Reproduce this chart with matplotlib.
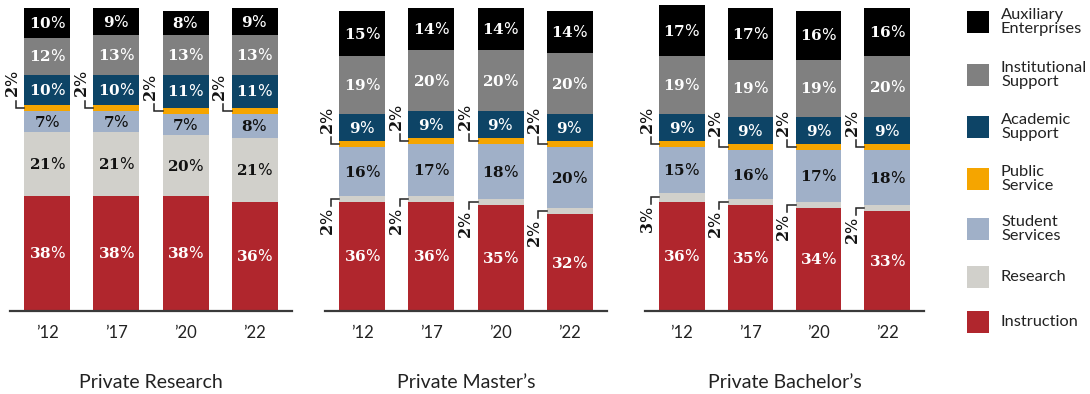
import matplotlib
matplotlib.use("Agg")
import matplotlib.pyplot as plt
from matplotlib.patches import Rectangle

plt.rcParams["font.family"] = ["Lato", "DejaVu Sans"]
plt.rcParams["mathtext.fontset"] = "custom"
plt.rcParams["mathtext.bf"] = "DejaVu Serif:bold"
plt.rcParams["mathtext.rm"] = "DejaVu Sans"

# ---- data -------------------------------------------------------------
years = ["\u201912", "\u201917", "\u201920", "\u201922"]
panels = ["Private Research", "Private Master\u2019s", "Private Bachelor\u2019s"]

categories = ["Instruction", "Research", "Student Services", "Public Service",
              "Academic Support", "Institutional Support", "Auxiliary Enterprises"]
legend_labels = ["Instruction", "Research", "Student\nServices", "Public\nService",
                 "Academic\nSupport", "Institutional\nSupport", "Auxiliary\nEnterprises"]

# shares (%) per panel, per year
instruction = [[38, 38, 38, 36], [36, 36, 35, 32], [36, 35, 34, 33]]
research = [[21, 21, 20, 21], [2, 2, 2, 2], [3, 2, 2, 2]]
student_services = [[7, 7, 7, 8], [16, 17, 18, 20], [15, 16, 17, 18]]
public_service = [[2, 2, 2, 2], [2, 2, 2, 2], [2, 2, 2, 2]]
academic_support = [[10, 10, 11, 11], [9, 9, 9, 9], [9, 9, 9, 9]]
institutional_support = [[12, 13, 13, 13], [19, 20, 20, 20], [19, 19, 19, 20]]
auxiliary_enterprises = [[10, 9, 8, 9], [15, 14, 14, 14], [17, 17, 16, 16]]

series = [instruction, research, student_services, public_service,
          academic_support, institutional_support, auxiliary_enterprises]

# ---- style ------------------------------------------------------------
colors = ["#b0262d", "#d1d0cb", "#a0b0c8", "#f5a500", "#0d4466", "#808080", "#000000"]
text_colors = ["white", "#111111", "#111111", "#111111", "white", "white", "white"]
callout_dir = [None, -1, None, +1, None, None, None]   # small segments: +1 above, -1 below
SMALL = 5

W, H = 1090, 394
fig = plt.figure(figsize=(W / 100, H / 100), dpi=100)

axes_left = [10, 325, 645]
axes_width = [282, 282, 279]
base_px = 311          # baseline from top
full_px = 303          # height of 100 %
xlim = (-0.54, 3.54)
bar_w = 0.667


def pct(v):
    return r"$\mathbf{%d}\mathrm{\%%}$" % v


for p, name in enumerate(panels):
    ax = fig.add_axes([axes_left[p] / W, (H - base_px) / H,
                       axes_width[p] / W, full_px / H])
    ax.set_xlim(*xlim)
    ax.set_ylim(0, 100)
    px_x = axes_width[p] / (xlim[1] - xlim[0])
    px_y = full_px / 100.0

    xs = list(range(len(years)))
    bottoms = [0] * len(years)
    for c, data in enumerate(series):
        vals = data[p]
        ax.bar(xs, vals, width=bar_w, bottom=bottoms, color=colors[c],
               linewidth=0, clip_on=False, zorder=2)
        for i, v in enumerate(vals):
            yc = bottoms[i] + v / 2
            if v >= SMALL:
                ax.text(xs[i], yc, pct(v), ha="center", va="center",
                        color=text_colors[c], fontsize=11, zorder=3)
            else:
                d = callout_dir[c]
                xl = xs[i] - bar_w / 2
                xk = xl - 8.5 / px_x
                yk = yc + d * 7 / px_y
                ax.plot([xl, xk, xk], [yc, yc, yk], color="#222222",
                        lw=1.1, solid_joinstyle="miter", clip_on=False, zorder=3)
                ax.text(xl - 11.5 / px_x, yc + d * 9.5 / px_y, pct(v),
                        rotation=90, ha="center",
                        va="bottom" if d > 0 else "top",
                        color="#111111", fontsize=11.5, zorder=3)
            bottoms[i] += v

    for s in ["top", "right", "left"]:
        ax.spines[s].set_visible(False)
    ax.spines["bottom"].set_color("#3a3a3a")
    ax.spines["bottom"].set_linewidth(1.6)
    ax.set_yticks([])
    ax.set_xticks(xs)
    ax.set_xticklabels(years, fontsize=12, color="#222222")
    ax.tick_params(axis="x", length=0, pad=10)

    cx = (axes_left[p] + axes_width[p] / 2) / W
    fig.text(cx, 1 - 382 / H, name, ha="center", va="center",
             fontsize=14, color="#222222")

# ---- legend -----------------------------------------------------------
legend_rows = [322, 277, 229, 179, 127, 75, 22]   # row centres, px from top
for c in range(len(categories)):
    yc = legend_rows[c]
    fig.add_artist(Rectangle(((967) / W, (H - yc - 11) / H), 22 / W, 22 / H,
                             transform=fig.transFigure, color=colors[c], lw=0))
    fig.text(1001 / W, 1 - yc / H, legend_labels[c], ha="left", va="center",
             fontsize=11.8, color="#222222", linespacing=0.95)

fig.savefig("out.png", dpi=100)
